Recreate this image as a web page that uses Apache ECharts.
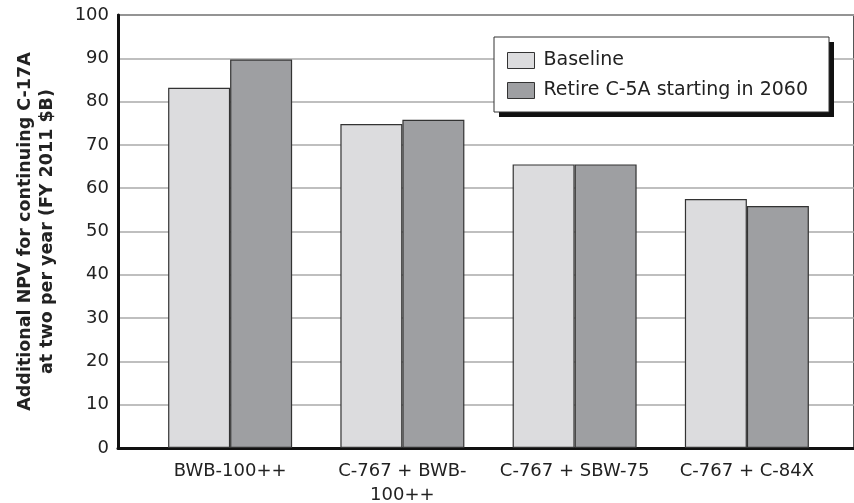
<!DOCTYPE html>
<html>
<head>
<meta charset="utf-8">
<script src="https://cdn.jsdelivr.net/npm/echarts@6/dist/echarts.min.js"></script>
<style>html,body{margin:0;padding:0;background:#fff}#c{width:854px;height:503px}</style>
</head>
<body>
<div id="c"></div>
<script>
const categories = ['BWB-100++', 'C-767 + BWB-100++', 'C-767 + SBW-75', 'C-767 + C-84X'];
const seriesNames = ['Baseline', 'Retire C-5A starting in 2060'];
const baseline = [83.2, 74.8, 65.5, 57.5];
const retire = [89.7, 75.8, 65.5, 55.9];
const yTicks = { min: 0, max: 100, interval: 10 };
const yTitle = 'Additional NPV for continuing C-17A\nat two per year (FY 2011 $B)';

const FONT = 'DejaVu Sans';
const chart = echarts.init(document.getElementById('c'), null, { renderer: 'canvas' });
const gridPos = { top: 15, bottom: 55 };
chart.setOption({
  animation: false,
  textStyle: { fontFamily: FONT },
  grid: [
    { left: 118, right: 0, top: gridPos.top, bottom: gridPos.bottom, outerBoundsMode: 'none', containLabel: false,
      show: true, borderColor: '#555', borderWidth: 2, backgroundColor: 'transparent' },
    { left: 144, right: 21, top: gridPos.top, bottom: gridPos.bottom, outerBoundsMode: 'none', containLabel: false }
  ],
  graphic: [
    { type: 'rect', z: 5, shape: { x: 499, y: 42, width: 335, height: 75 }, style: { fill: '#111' } },
    { type: 'rect', z: 6, shape: { x: 494, y: 37, width: 335, height: 75 }, style: { fill: '#fff', stroke: '#333', lineWidth: 1 } }
  ],
  legend: {
    orient: 'vertical',
    left: 507, top: 51, padding: 0, z: 10,
    itemWidth: 27, itemHeight: 16, itemGap: 11,
    textStyle: { fontFamily: FONT, fontSize: 19, color: '#222', padding: [0, 0, 0, 4] },
    itemStyle: { borderColor: '#333', borderWidth: 1 },
    data: seriesNames.map(n => ({ name: n, icon: 'rect' }))
  },
  xAxis: [
    { type: 'category', gridIndex: 0, data: categories, axisLine: { show: true, lineStyle: { color: '#111', width: 3 } },
      axisTick: { show: false }, axisLabel: { show: false }, splitLine: { show: false } },
    { type: 'category', gridIndex: 1, data: categories, axisLine: { show: false }, axisTick: { show: false },
      axisLabel: { interval: 0, hideOverlap: false, fontFamily: FONT, fontSize: 18, color: '#222', margin: 11, lineHeight: 24,
        formatter: v => v.length > 15 ? v.replace('BWB-', 'BWB-\n') : v } }
  ],
  yAxis: [
    { type: 'value', gridIndex: 0, min: yTicks.min, max: yTicks.max, interval: yTicks.interval,
      axisLine: { show: true, lineStyle: { color: '#111', width: 3 } }, axisTick: { show: false },
      axisLabel: { fontFamily: FONT, fontSize: 18, color: '#222', margin: 9 },
      splitLine: { show: true, lineStyle: { color: '#aaa', width: 1.5 } },
      name: yTitle, nameLocation: 'middle', nameRotate: 90, nameGap: 60,
      nameTextStyle: { fontFamily: FONT, fontSize: 17.5, fontWeight: 'bold', color: '#222', lineHeight: 22, align: 'center' } },
    { type: 'value', gridIndex: 1, min: yTicks.min, max: yTicks.max, interval: yTicks.interval, show: false, splitLine: { show: false } }
  ],
  series: [
    { name: seriesNames[0], type: 'bar', xAxisIndex: 1, yAxisIndex: 1, data: baseline, barWidth: 62, barGap: '0%',
      itemStyle: { color: '#dcdcde', borderColor: '#333', borderWidth: 1.2 } },
    { name: seriesNames[1], type: 'bar', xAxisIndex: 1, yAxisIndex: 1, data: retire, barWidth: 62, barGap: '0%',
      itemStyle: { color: '#9e9fa2', borderColor: '#333', borderWidth: 1.2 } }
  ]
});
</script>
</body>
</html>
